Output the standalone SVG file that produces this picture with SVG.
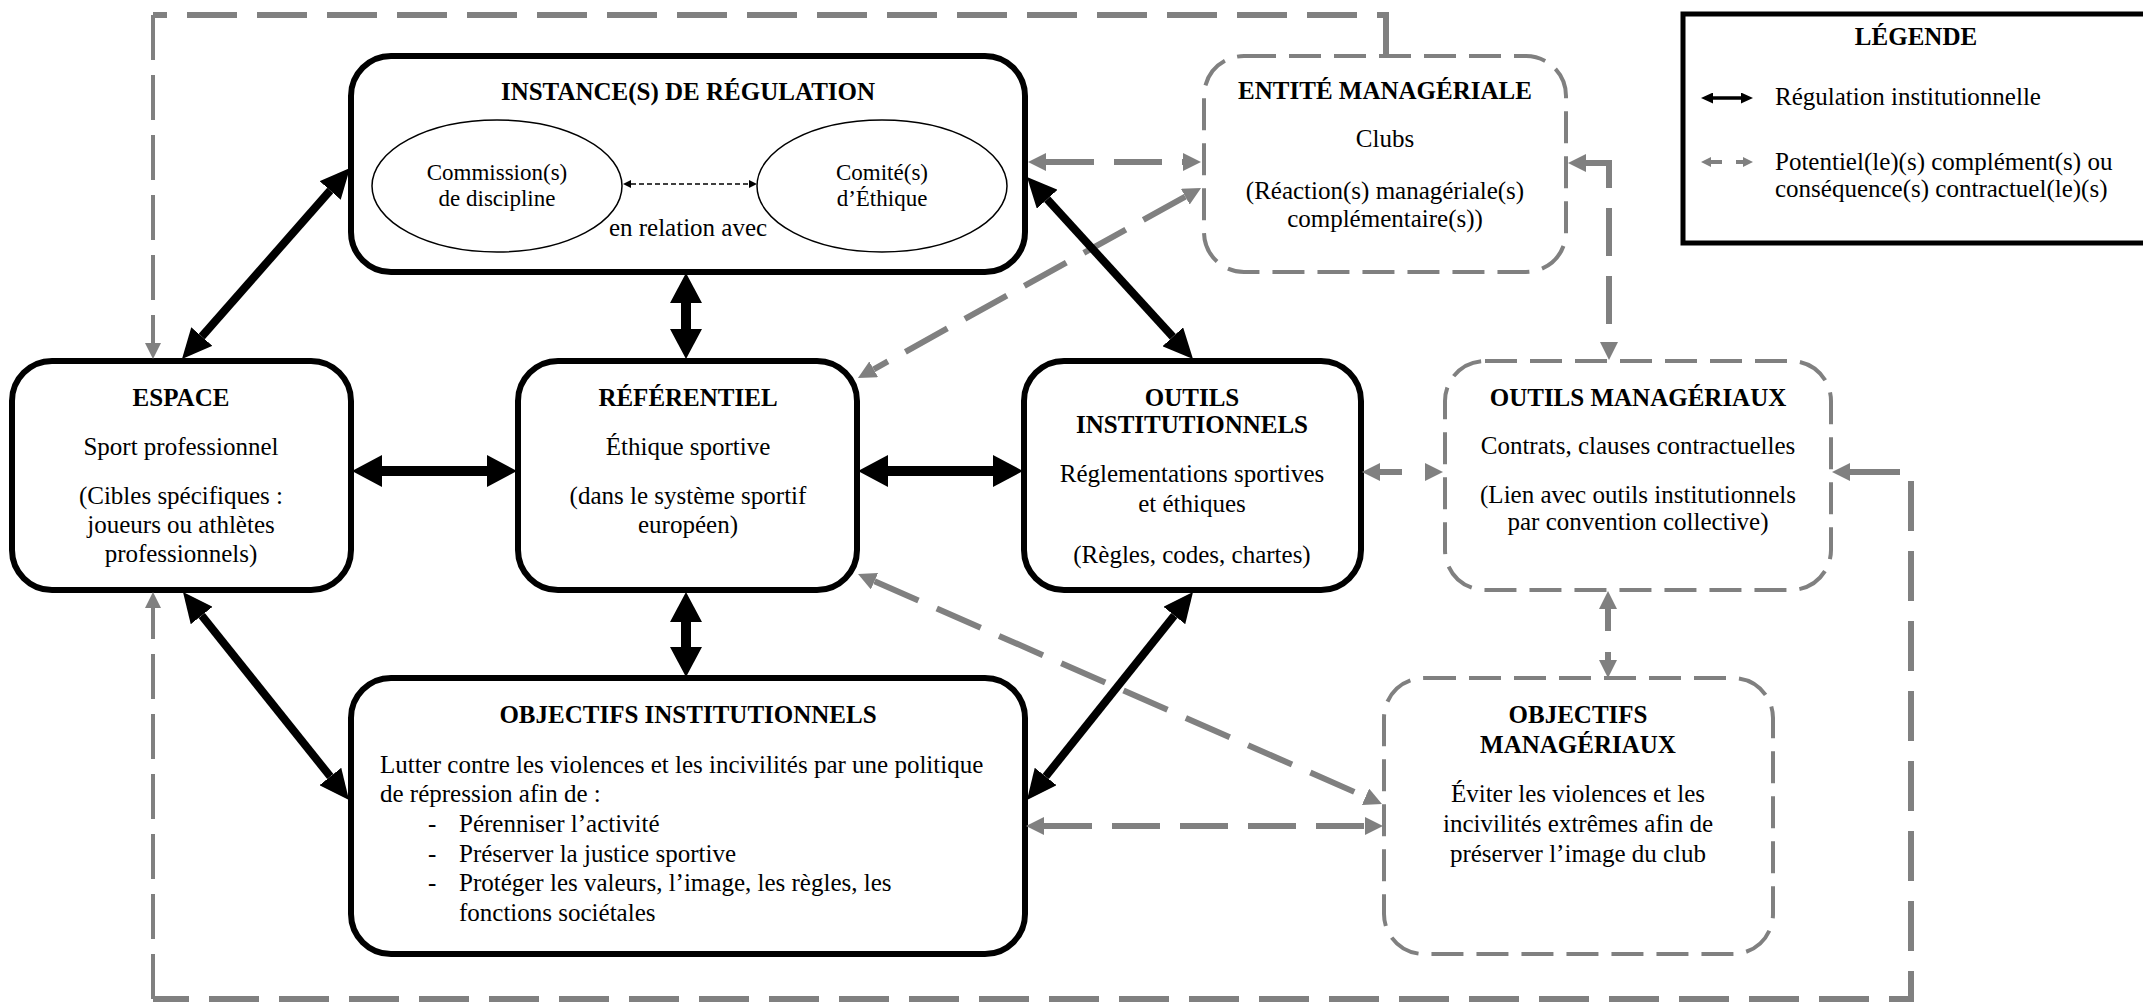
<svg xmlns="http://www.w3.org/2000/svg" width="2143" height="1005" viewBox="0 0 2143 1005">
<defs>
<style>
.box{fill:#fff;stroke:#000;stroke-width:6}
.mbox{fill:#fff;stroke:#808080;stroke-width:4;stroke-dasharray:32 13}
.ell{fill:#fff;stroke:#000;stroke-width:1.5}
.t{font-family:"Liberation Serif","Times New Roman",serif;font-size:25px;fill:#000}
.s{font-size:23px}
.b{font-weight:bold}
.c{text-anchor:middle}
.blk{fill:none;stroke:#000;stroke-width:10;marker-start:url(#hb);marker-end:url(#hb)}
.dia{fill:none;stroke:#000;stroke-width:8;marker-start:url(#hd);marker-end:url(#hd)}
.gry{fill:none;stroke:#808080;stroke-width:6;stroke-dasharray:48 20}
.gm{marker-start:url(#hg);marker-end:url(#hg)}
.out{fill:none;stroke:#808080;stroke-width:6;stroke-dasharray:50 20}
.outl{fill:none;stroke:#808080;stroke-width:4;stroke-dasharray:45 15}
</style>
<marker id="hb" viewBox="0 0 30 32" refX="0" refY="16" markerWidth="30" markerHeight="32" markerUnits="userSpaceOnUse" orient="auto-start-reverse"><path d="M0,0 L30,16 L0,32 z" fill="#000"/></marker>
<marker id="hd" viewBox="0 0 30 28" refX="0" refY="14" markerWidth="30" markerHeight="28" markerUnits="userSpaceOnUse" orient="auto-start-reverse"><path d="M0,0 L30,14 L0,28 z" fill="#000"/></marker>
<marker id="hg" viewBox="0 0 18 18" refX="0" refY="9" markerWidth="18" markerHeight="18" markerUnits="userSpaceOnUse" orient="auto-start-reverse"><path d="M0,0 L18,9 L0,18 z" fill="#808080"/></marker>
<marker id="ho" viewBox="0 0 16 16" refX="0" refY="8" markerWidth="16" markerHeight="16" markerUnits="userSpaceOnUse" orient="auto-start-reverse"><path d="M0,0 L16,8 L0,16 z" fill="#808080"/></marker>
<marker id="hl1" viewBox="0 0 12 11" refX="0" refY="5.5" markerWidth="12" markerHeight="11" markerUnits="userSpaceOnUse" orient="auto-start-reverse"><path d="M0,0 L12,5.5 L0,11 z" fill="#000"/></marker>
<marker id="hl2" viewBox="0 0 10 10" refX="0" refY="5" markerWidth="10" markerHeight="10" markerUnits="userSpaceOnUse" orient="auto-start-reverse"><path d="M0,0 L10,5 L0,10 z" fill="#808080"/></marker>
<marker id="he" viewBox="0 0 8 8" refX="0" refY="4" markerWidth="8" markerHeight="8" markerUnits="userSpaceOnUse" orient="auto-start-reverse"><path d="M0,0 L8,4 L0,8 z" fill="#000"/></marker>
</defs>
<rect width="2143" height="1005" fill="#fff"/>

<g id="instance">
<rect class="box" x="351" y="56" width="674" height="216" rx="40"/>
<text class="t b c" x="688" y="100">INSTANCE(S) DE RÉGULATION</text>
<ellipse class="ell" cx="497" cy="186" rx="125" ry="66"/>
<ellipse class="ell" cx="882" cy="186" rx="125" ry="66"/>
<text class="t s c" x="497" y="180">Commission(s)</text>
<text class="t s c" x="497" y="206">de discipline</text>
<text class="t s c" x="882" y="180">Comité(s)</text>
<text class="t s c" x="882" y="206">d’Éthique</text>
<path d="M631,184 H749" fill="none" stroke="#000" stroke-width="1.5" stroke-dasharray="5 3" marker-start="url(#he)" marker-end="url(#he)"/>
<text class="t c" x="688" y="236">en relation avec</text>
</g>

<g id="entite">
<rect class="mbox" x="1204" y="56" width="362" height="216" rx="40"/>
<text class="t b c" x="1385" y="99">ENTITÉ MANAGÉRIALE</text>
<text class="t c" x="1385" y="147">Clubs</text>
<text class="t c" x="1385" y="199">(Réaction(s) managériale(s)</text>
<text class="t c" x="1385" y="227">complémentaire(s))</text>
</g>

<g id="legende">
<rect x="1683" y="14" width="463" height="229" fill="#fff" stroke="#000" stroke-width="5"/>
<text class="t b c" x="1916" y="45">LÉGENDE</text>
<path d="M1713,98 H1741" fill="none" stroke="#000" stroke-width="3.5" marker-start="url(#hl1)" marker-end="url(#hl1)"/>
<text class="t" x="1775" y="105">Régulation institutionnelle</text>
<path d="M1711,162 H1743" fill="none" stroke="#808080" stroke-width="4" stroke-dasharray="11 14 7" marker-start="url(#hl2)" marker-end="url(#hl2)"/>
<text class="t" x="1775" y="170">Potentiel(le)(s) complément(s) ou</text>
<text class="t" x="1775" y="197">conséquence(s) contractuel(le)(s)</text>
</g>

<g id="espace">
<rect class="box" x="12" y="361" width="339" height="229" rx="40"/>
<text class="t b c" x="181" y="406">ESPACE</text>
<text class="t c" x="181" y="455">Sport professionnel</text>
<text class="t c" x="181" y="504">(Cibles spécifiques :</text>
<text class="t c" x="181" y="533">joueurs ou athlètes</text>
<text class="t c" x="181" y="562">professionnels)</text>
</g>

<g id="referentiel">
<rect class="box" x="518" y="361" width="339" height="229" rx="40"/>
<text class="t b c" x="688" y="406">RÉFÉRENTIEL</text>
<text class="t c" x="688" y="455">Éthique sportive</text>
<text class="t c" x="688" y="504">(dans le système sportif</text>
<text class="t c" x="688" y="533">européen)</text>
</g>

<g id="outils-institutionnels">
<rect class="box" x="1024" y="361" width="337" height="229" rx="40"/>
<text class="t b c" x="1192" y="406">OUTILS</text>
<text class="t b c" x="1192" y="433">INSTITUTIONNELS</text>
<text class="t c" x="1192" y="482">Réglementations sportives</text>
<text class="t c" x="1192" y="512">et éthiques</text>
<text class="t c" x="1192" y="563">(Règles, codes, chartes)</text>
</g>

<g id="outils-manageriaux">
<rect class="mbox" x="1445" y="361" width="386" height="229" rx="40"/>
<text class="t b c" x="1638" y="406">OUTILS MANAGÉRIAUX</text>
<text class="t c" x="1638" y="454">Contrats, clauses contractuelles</text>
<text class="t c" x="1638" y="503">(Lien avec outils institutionnels</text>
<text class="t c" x="1638" y="530">par convention collective)</text>
</g>

<g id="objectifs-institutionnels">
<rect class="box" x="351" y="678" width="674" height="276" rx="40"/>
<text class="t b c" x="688" y="723">OBJECTIFS INSTITUTIONNELS</text>
<text class="t" x="380" y="773">Lutter contre les violences et les incivilités par une politique</text>
<text class="t" x="380" y="802">de répression afin de :</text>
<text class="t" x="428" y="832">-</text>
<text class="t" x="459" y="832">Pérenniser l’activité</text>
<text class="t" x="428" y="862">-</text>
<text class="t" x="459" y="862">Préserver la justice sportive</text>
<text class="t" x="428" y="891">-</text>
<text class="t" x="459" y="891">Protéger les valeurs, l’image, les règles, les</text>
<text class="t" x="459" y="921">fonctions sociétales</text>
</g>

<g id="objectifs-manageriaux">
<rect class="mbox" x="1384" y="678" width="389" height="276" rx="40"/>
<text class="t b c" x="1578" y="723">OBJECTIFS</text>
<text class="t b c" x="1578" y="753">MANAGÉRIAUX</text>
<text class="t c" x="1578" y="802">Éviter les violences et les</text>
<text class="t c" x="1578" y="832">incivilités extrêmes afin de</text>
<text class="t c" x="1578" y="862">préserver l’image du club</text>
</g>

<g id="connectors">
<!-- outer loops -->
<path class="out" d="M1386,56 V15 H153"/>
<path class="outl" d="M153,15 V343" marker-end="url(#ho)"/>
<path class="out" d="M1850,472 H1911 V999 H153" marker-start="url(#hg)"/>
<path class="outl" d="M153,999 V608" marker-end="url(#ho)"/>
<!-- gray dashed -->
<path class="gry gm" d="M1046,162 H1183"/>
<path class="gry gm" d="M1185.3,196.7 L873.7,369.3"/>
<path class="gry gm" d="M874.5,581.2 L1365.5,796.8"/>
<path class="gry gm" style="stroke-dasharray:22 23" d="M1380,472 H1425"/>
<path class="gry gm" d="M1044,826 H1365"/>
<path class="gry gm" d="M1586,163 H1609 V342"/>
<path class="gry gm" style="stroke-dasharray:22 21" d="M1608,609 V660"/>
<!-- black regulation -->
<path class="blk" d="M686,303 V329"/>
<path class="blk" d="M686,622 V647"/>
<path class="blk" d="M382,471 H487"/>
<path class="blk" d="M888,471 H993"/>
<path class="dia" d="M201.8,336.5 L330.2,190.5"/>
<path class="dia" d="M1047.2,199.2 L1172.8,336.8"/>
<path class="dia" d="M201.7,615.5 L330.3,776.5"/>
<path class="dia" d="M1174.3,615.5 L1045.7,776.5"/>
</g>
</svg>
